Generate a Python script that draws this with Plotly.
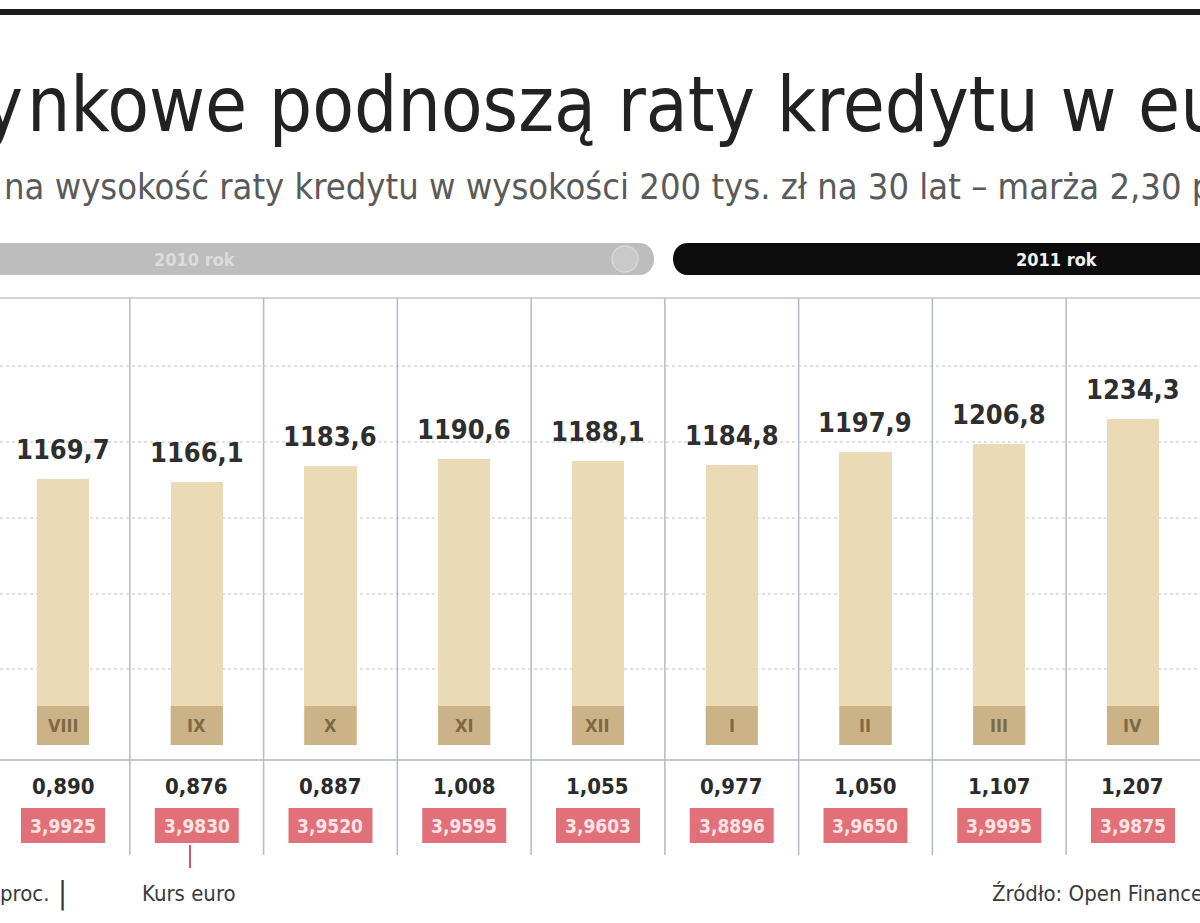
import plotly.graph_objects as go

# dane (VIII 2010 - IV 2011)
miesiace = ["VIII", "IX", "X", "XI", "XII", "I", "II", "III", "IV"]
rata = [1169.7, 1166.1, 1183.6, 1190.6, 1188.1, 1184.8, 1197.9, 1206.8, 1234.3]
euribor = [0.890, 0.876, 0.887, 1.008, 1.055, 0.977, 1.050, 1.107, 1.207]
kurs_euro = [3.9925, 3.9830, 3.9520, 3.9595, 3.9603, 3.8896, 3.9650, 3.9995, 3.9875]
lata = ["2010 rok", "2011 rok"]

W, H = 1200, 923
TOP, BOT = 298, 745  # granice obszaru wykresu w pikselach
FONT = "DejaVu Sans Condensed, DejaVu Sans, sans-serif"


def px(x):
    return x / W


def py(y):
    return (BOT - y) / (BOT - TOP)


def fmt(v, d):
    return f"{v:.{d}f}".replace(".", ",")


xs = list(range(len(miesiace)))

fig = go.Figure()
fig.add_trace(go.Bar(
    x=xs, y=rata, width=0.39,
    marker=dict(color="#ebdab6", line=dict(width=0)),
    hoverinfo="skip", showlegend=False,
))

shapes = []
ann = []

# gruba linia na gorze
shapes.append(dict(type="line", xref="paper", yref="paper", x0=0, x1=1,
                   y0=py(12), y1=py(12), line=dict(color="#1c1c1c", width=6)))

# pasek lat
r = 16
yt, yb = py(243), py(275)
ym = py(259)
gx = 655
shapes.append(dict(type="path", xref="paper", yref="paper",
                   path=f"M {px(-30)},{yt} L {px(gx - r)},{yt} C {px(gx + 4)},{yt} {px(gx + 4)},{yb} {px(gx - r)},{yb} L {px(-30)},{yb} Z",
                   fillcolor="#bdbdbd", line=dict(width=0)))
shapes.append(dict(type="circle", xref="paper", yref="paper",
                   x0=px(612), x1=px(638), y0=py(246), y1=py(272),
                   fillcolor="#c9c9c9", line=dict(color="#d8d8d8", width=1.5)))
bx = 672
shapes.append(dict(type="path", xref="paper", yref="paper",
                   path=f"M {px(1230)},{yt} L {px(bx + r)},{yt} C {px(bx - 4)},{yt} {px(bx - 4)},{yb} {px(bx + r)},{yb} L {px(1230)},{yb} Z",
                   fillcolor="#0d0d0d", line=dict(width=0)))
ann.append(dict(x=px(195), y=ym, text="<b>" + lata[0] + "</b>", font=dict(size=18, color="#dcdcdc")))
ann.append(dict(x=px(1057), y=ym, text="<b>" + lata[1] + "</b>", font=dict(size=18, color="#f2f2f2")))

# linie podzialu
shapes.append(dict(type="line", xref="paper", yref="paper", x0=0, x1=1,
                   y0=py(298), y1=py(298), line=dict(color="#c4c6cc", width=1.5)))
shapes.append(dict(type="line", xref="paper", yref="paper", x0=0, x1=1,
                   y0=py(760), y1=py(760), line=dict(color="#c3c5cf", width=2)))
for i in xs[:-1]:
    shapes.append(dict(type="line", xref="x", yref="paper", x0=i + 0.5, x1=i + 0.5,
                       y0=py(298), y1=py(855), line=dict(color="#b4b9c6", width=1.5)))

hw = 42 / 133.75
for i in xs:
    # ciemniejszy spod slupka
    shapes.append(dict(type="rect", xref="x", yref="paper", x0=i - 0.195, x1=i + 0.195,
                       y0=py(745), y1=py(706), fillcolor="#cbb387", line=dict(width=0)))
    # czerwone pole z kursem
    shapes.append(dict(type="rect", xref="x", yref="paper", x0=i - hw, x1=i + hw,
                       y0=py(843), y1=py(808), fillcolor="#e27079", line=dict(width=0)))
    ann.append(dict(x=i, xref="x", y=rata[i], yref="y", yanchor="bottom", yshift=12,
                    text="<b>" + fmt(rata[i], 1) + "</b>",
                    font=dict(size=27, color="#2e2e2e")))
    ann.append(dict(x=i, xref="x", y=py(725), text="<b>" + miesiace[i] + "</b>",
                    font=dict(size=18, color="#7d6a45")))
    ann.append(dict(x=i, xref="x", y=py(786), text="<b>" + fmt(euribor[i], 3) + "</b>",
                    font=dict(size=22, color="#2b2b2b")))
    ann.append(dict(x=i, xref="x", y=py(826), text="<b>" + fmt(kurs_euro[i], 4) + "</b>",
                    font=dict(size=19, color="#fbe3e5")))

# kreska od etykiety "Kurs euro"
shapes.append(dict(type="line", xref="paper", yref="paper", x0=px(190), x1=px(190),
                   y0=py(845), y1=py(868), line=dict(color="#d05a64", width=2)))

# tytul i podtytul (przyciete z lewej i prawej jak w oryginale)
tfont = dict(size=76, color="#222222")
ann.append(dict(x=px(25), y=py(104), xanchor="right", text="Stawki ry", font=tfont))
ann.append(dict(x=px(25), y=py(104), xanchor="left", text="nkowe podnoszą raty kredytu w euro", font=tfont))
sfont = dict(size=36, color="#5a5a5a")
ann.append(dict(x=px(2), y=py(186), xanchor="right", text="Miesięcz", font=sfont))
ann.append(dict(x=px(2), y=py(186), xanchor="left",
                text="na wysokość raty kredytu w wysokości 200 tys. zł na 30 lat – marża 2,30 pkt proc.", font=sfont))

# podpisy na dole
bfont = dict(size=22, color="#3a3a3a")
ann.append(dict(x=px(52), y=py(893), xanchor="right", text="Euribor 3M, proc.", font=bfont))
ann.append(dict(x=px(62), y=py(893), xanchor="center", text="|", font=dict(size=30, color="#3a3a3a")))
ann.append(dict(x=px(140), y=py(893), xanchor="left", text="Kurs euro", font=bfont))
ann.append(dict(x=px(990), y=py(893), xanchor="left", text="Źródło: Open Finance", font=bfont))

for a in ann:
    a.setdefault("xref", "paper")
    a.setdefault("yref", "paper")
    a.setdefault("xanchor", "center")
    a.setdefault("yanchor", "middle")
    a["showarrow"] = False

fig.update_layout(
    width=W, height=H,
    margin=dict(l=0, r=0, t=TOP, b=H - BOT, pad=0),
    paper_bgcolor="white", plot_bgcolor="white",
    font=dict(family=FONT),
    xaxis=dict(range=[-0.471, 8.501], visible=False),
    yaxis=dict(range=[883, 1364], showticklabels=False, showgrid=True,
               gridcolor="#dde0e8", griddash="dot", gridwidth=1.5,
               tick0=883, dtick=81.5, zeroline=False, showline=False, ticks=""),
    shapes=shapes, annotations=ann,
    bargap=0,
)

fig.write_html("out.html", config={"displayModeBar": False},
               post_script="document.body.style.margin='0';")
